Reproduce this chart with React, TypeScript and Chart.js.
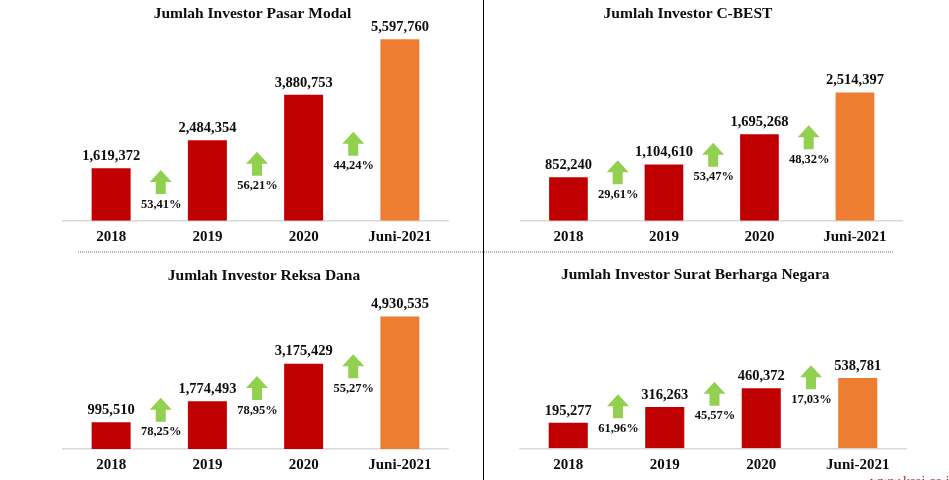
import React, { useEffect, useRef } from "react";
import { Chart, registerables } from "chart.js";

Chart.register(...registerables);

// ---------- data ----------
const categories = ["2018", "2019", "2020", "Juni-2021"];

const pasarModalValues = [1619372, 2484354, 3880753, 5597760];
const pasarModalGrowth = ["53,41%", "56,21%", "44,24%"];
const pasarModalArrowBase = [824000, 1388000, 2005000];

const cbestValues = [852240, 1104610, 1695268, 2514397];
const cbestGrowth = ["29,61%", "53,47%", "48,32%"];
const cbestArrowBase = [715000, 1060000, 1402000];

const reksaDanaValues = [995510, 1774493, 3175429, 4930535];
const reksaDanaGrowth = ["78,25%", "78,95%", "55,27%"];
const reksaDanaArrowBase = [1016000, 1823000, 2630000];

const sbnValues = [195277, 316263, 460372, 538781];
const sbnGrowth = ["61,96%", "45,57%", "17,03%"];
const sbnArrowBase = [230000, 327000, 452000];

// ---------- styles ----------
const FONT = "'Liberation Serif', 'Times New Roman', serif";
const RED = "#C00000";
const ORANGE = "#ED7D31";
const GREEN = "#92D050";
const TEXT = "#0d0d0d";

type Cfg = {
  title: string;
  values: number[];
  growth: string[];
  arrowBase: number[];
  yMax: number;
  left: number;
  top: number;
  width: number;
  height: number;
  pad: { left: number; right: number; top: number; bottom: number };
  titleX: number;
  titleY: number;
};

function fmt(v: number) {
  return v.toLocaleString("en-US");
}

function InvestorChart({ cfg }: { cfg: Cfg }) {
  const ref = useRef<HTMLCanvasElement | null>(null);

  useEffect(() => {
    if (!ref.current) return;
    const overlay = {
      id: "overlay",
      afterDatasetsDraw(chart: any) {
        const ctx = chart.ctx;
        const meta = chart.getDatasetMeta(0);
        const yScale = chart.scales.y;
        ctx.save();
        // title
        ctx.fillStyle = TEXT;
        ctx.font = `bold 15.5px ${FONT}`;
        ctx.textAlign = "center";
        ctx.textBaseline = "middle";
        ctx.fillText(cfg.title, cfg.titleX, cfg.titleY);
        // value labels
        ctx.font = `bold 14.5px ${FONT}`;
        meta.data.forEach((bar: any, i: number) => {
          ctx.fillText(fmt(cfg.values[i]), bar.x, bar.y - 12);
        });
        // growth arrows + labels
        for (let i = 0; i < cfg.growth.length; i++) {
          const a = meta.data[i];
          const b = meta.data[i + 1];
          const cx = (a.x + b.x) / 2 + 1.5;
          const bottom = yScale.getPixelForValue(cfg.arrowBase[i]);
          const h = 24;
          const headH = 12;
          const w = 22;
          const sw = 10;
          ctx.fillStyle = GREEN;
          ctx.beginPath();
          ctx.moveTo(cx - sw / 2, bottom);
          ctx.lineTo(cx - sw / 2, bottom - (h - headH));
          ctx.lineTo(cx - w / 2, bottom - (h - headH));
          ctx.lineTo(cx, bottom - h);
          ctx.lineTo(cx + w / 2, bottom - (h - headH));
          ctx.lineTo(cx + sw / 2, bottom - (h - headH));
          ctx.lineTo(cx + sw / 2, bottom);
          ctx.closePath();
          ctx.fill();
          ctx.fillStyle = TEXT;
          ctx.font = `bold 12.5px ${FONT}`;
          ctx.fillText(cfg.growth[i], cx + 0.5, bottom + 10.5);
        }
        ctx.restore();
      },
    };

    const chart = new Chart(ref.current, {
      type: "bar",
      data: {
        labels: categories,
        datasets: [
          {
            data: cfg.values,
            backgroundColor: cfg.values.map((_, i) =>
              i === cfg.values.length - 1 ? ORANGE : RED
            ),
            barPercentage: 0.405,
            categoryPercentage: 1,
          },
        ],
      },
      options: {
        animation: false,
        responsive: false,
        maintainAspectRatio: false,
        layout: { padding: cfg.pad },
        plugins: {
          legend: { display: false },
          title: { display: false },
          tooltip: { enabled: false },
        },
        scales: {
          x: {
            grid: { display: true, color: "transparent", drawTicks: false },
            border: { display: true, color: "#D9D9D9", width: 1.5 },
            ticks: {
              color: TEXT,
              padding: 7.5,
              font: { family: FONT, size: 15, weight: "bold" },
            },
            afterFit: (scale: any) => {
              scale.height = 25;
            },
          },
          y: {
            display: false,
            min: 0,
            max: cfg.yMax,
          },
        },
      },
      plugins: [overlay],
    });
    return () => chart.destroy();
  }, [cfg]);

  return (
    <canvas
      ref={ref}
      width={cfg.width}
      height={cfg.height}
      style={{
        position: "absolute",
        left: cfg.left,
        top: cfg.top,
        width: cfg.width,
        height: cfg.height,
      }}
    />
  );
}

const charts: Cfg[] = [
  {
    title: "Jumlah Investor Pasar Modal",
    values: pasarModalValues,
    growth: pasarModalGrowth,
    arrowBase: pasarModalArrowBase,
    yMax: 6190000,
    left: 0,
    top: 0,
    width: 470,
    height: 250,
    pad: { left: 63, right: 22, top: 20, bottom: 4.3 },
    titleX: 252.5,
    titleY: 14,
  },
  {
    title: "Jumlah Investor C-BEST",
    values: cbestValues,
    growth: cbestGrowth,
    arrowBase: cbestArrowBase,
    yMax: 3940000,
    left: 484,
    top: 0,
    width: 465,
    height: 250,
    pad: { left: 36.7, right: 46.3, top: 20, bottom: 4.3 },
    titleX: 204,
    titleY: 13.5,
  },
  {
    title: "Jumlah Investor Reksa Dana",
    values: reksaDanaValues,
    growth: reksaDanaGrowth,
    arrowBase: reksaDanaArrowBase,
    yMax: 6585000,
    left: 0,
    top: 252,
    width: 470,
    height: 228,
    pad: { left: 63, right: 22, top: 20, bottom: 6 },
    titleX: 264,
    titleY: 23.7,
  },
  {
    title: "Jumlah Investor Surat Berharga Negara",
    values: sbnValues,
    growth: sbnGrowth,
    arrowBase: sbnArrowBase,
    yMax: 1352000,
    left: 484,
    top: 252,
    width: 465,
    height: 228,
    pad: { left: 36, right: 43, top: 20, bottom: 6.7 },
    titleX: 211.3,
    titleY: 23,
  },
];

export default function App() {
  return (
    <div
      style={{
        position: "absolute",
        left: 0,
        top: 0,
        width: 949,
        height: 480,
        overflow: "hidden",
        background: "#ffffff",
      }}
    >
      {charts.map((c) => (
        <InvestorChart key={c.title} cfg={c} />
      ))}
      <div
        style={{
          position: "absolute",
          left: 78,
          top: 251,
          width: 815,
          height: 1.5,
          background:
            "repeating-linear-gradient(to right, #B5B5B5 0px, #B5B5B5 1px, transparent 1px, transparent 2px)",
        }}
      />
      <div
        style={{
          position: "absolute",
          left: 482.5,
          top: 0,
          width: 1.5,
          height: 480,
          background: "#000000",
        }}
      />
      <span
        style={{
          position: "absolute",
          left: 870,
          top: 474.5,
          fontFamily: FONT,
          fontSize: 14,
          lineHeight: "14px",
          color: "#A52A2A",
          whiteSpace: "nowrap",
        }}
      >
        www.ksei.co.id
      </span>
    </div>
  );
}
